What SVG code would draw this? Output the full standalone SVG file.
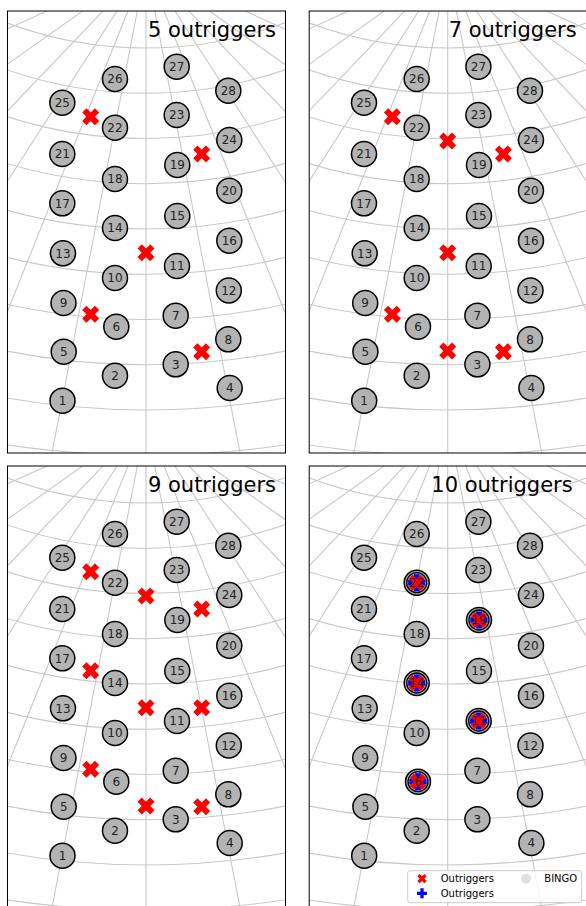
<svg xmlns="http://www.w3.org/2000/svg" width="586" height="906" viewBox="0 0 586 906">
<style>
.bg{fill:#fff;stroke:none}
.frame{fill:none;stroke:#000;stroke-width:1}
.grid path,.grid circle{fill:none;stroke:#c8c8c8;stroke-width:1.1}
.node circle{fill:#b3b3b3;stroke:#000;stroke-width:1.5}
.node circle.ring{fill:none;stroke:#000;stroke-width:1.3}
.node text{font-family:"DejaVu Sans",sans-serif;font-size:12px;fill:#222;text-anchor:middle}
.title{font-family:"DejaVu Sans",sans-serif;font-size:21px;fill:#000;text-anchor:end}
.ox{fill:#f00}
.op{fill:#00f}
.leg{font-family:"DejaVu Sans",sans-serif;font-size:10px;fill:#000}
.legbox{fill:#fff;fill-opacity:0.8;stroke:#cccccc;stroke-width:1}
</style>
<defs>
<clipPath id="clip"><rect x="7.5" y="11" width="278" height="442"/></clipPath>
<path id="xm" d="M-3,-9H3V-3H9V3H3V9H-3V3H-9V-3H-3Z" transform="rotate(45)"/>
<path id="pm" d="M-3,-9H3V-3H9V3H3V9H-3V3H-9V-3H-3Z"/>
<g id="grid" class="grid">
<path d="M146,-34V1000"/>
<path d="M146,-34L335.6,947.9M146,-34L-43.6,947.9"/>
<path d="M146,-34L518.3,894.1M146,-34L-226.3,894.1"/>
<path d="M146,-34L687.5,806.7M146,-34L-395.5,806.7"/>
<path d="M146,-34L837.2,688.7M146,-34L-545.2,688.7"/>
<path d="M146,-34L961.7,544.5M146,-34L-669.7,544.5"/>
<path d="M146,-34L1056.5,379.5M146,-34L-764.5,379.5"/>
<path d="M146,-34L1118.4,199.3M146,-34L-826.4,199.3"/>
<circle cx="146" cy="-348.1" r="396.1"/>
<circle cx="146" cy="-328.75" r="422"/>
<circle cx="146" cy="-313.3" r="451.8"/>
<circle cx="146" cy="-302.9" r="486.6"/>
<circle cx="146" cy="-298.7" r="527.7"/>
<circle cx="146" cy="-302.5" r="576.8"/>
<circle cx="146" cy="-317" r="636.5"/>
<circle cx="146" cy="-346" r="710.7"/>
<circle cx="146" cy="-395.3" r="805.3"/>
<circle cx="146" cy="-474.4" r="929.6"/>
</g>
</defs>

<!-- Panel 1 -->
<g id="panel5" transform="translate(0,0)">
<rect class="bg" x="7.5" y="11" width="278" height="442"/>
<g clip-path="url(#clip)"><use href="#grid"/></g>
<g id="p5-n1" class="node"><circle cx="62.5" cy="400.7" r="12.5"/><text x="62.5" y="405.1">1</text></g>
<g id="p5-n2" class="node"><circle cx="115" cy="375.7" r="12.5"/><text x="115" y="380.1">2</text></g>
<g id="p5-n3" class="node"><circle cx="175.7" cy="364.3" r="12.5"/><text x="175.7" y="368.7">3</text></g>
<g id="p5-n4" class="node"><circle cx="229.7" cy="388" r="12.5"/><text x="229.7" y="392.4">4</text></g>
<g id="p5-n5" class="node"><circle cx="63.7" cy="351.7" r="12.5"/><text x="63.7" y="356.1">5</text></g>
<g id="p5-n6" class="node"><circle cx="116.3" cy="326.7" r="12.5"/><text x="116.3" y="331.1">6</text></g>
<g id="p5-n7" class="node"><circle cx="175.7" cy="315.7" r="12.5"/><text x="175.7" y="320.1">7</text></g>
<g id="p5-n8" class="node"><circle cx="228.3" cy="339.3" r="12.5"/><text x="228.3" y="343.7">8</text></g>
<g id="p5-n9" class="node"><circle cx="63.5" cy="303" r="12.5"/><text x="63.5" y="307.4">9</text></g>
<g id="p5-n10" class="node"><circle cx="115" cy="278" r="12.5"/><text x="115" y="282.4">10</text></g>
<g id="p5-n11" class="node"><circle cx="177" cy="266" r="12.5"/><text x="177" y="270.4">11</text></g>
<g id="p5-n12" class="node"><circle cx="228.8" cy="290.5" r="12.5"/><text x="228.8" y="294.9">12</text></g>
<g id="p5-n13" class="node"><circle cx="63" cy="253.3" r="12.5"/><text x="63" y="257.7">13</text></g>
<g id="p5-n14" class="node"><circle cx="115" cy="228" r="12.5"/><text x="115" y="232.4">14</text></g>
<g id="p5-n15" class="node"><circle cx="177.3" cy="216" r="12.5"/><text x="177.3" y="220.4">15</text></g>
<g id="p5-n16" class="node"><circle cx="229.3" cy="240.7" r="12.5"/><text x="229.3" y="245.1">16</text></g>
<g id="p5-n17" class="node"><circle cx="62.3" cy="203.3" r="12.5"/><text x="62.3" y="207.7">17</text></g>
<g id="p5-n18" class="node"><circle cx="115" cy="179" r="12.5"/><text x="115" y="183.4">18</text></g>
<g id="p5-n19" class="node"><circle cx="177.3" cy="165" r="12.5"/><text x="177.3" y="169.4">19</text></g>
<g id="p5-n20" class="node"><circle cx="229.3" cy="190.7" r="12.5"/><text x="229.3" y="195.1">20</text></g>
<g id="p5-n21" class="node"><circle cx="62.3" cy="154" r="12.5"/><text x="62.3" y="158.4">21</text></g>
<g id="p5-n22" class="node"><circle cx="115" cy="127.7" r="12.5"/><text x="115" y="132.1">22</text></g>
<g id="p5-n23" class="node"><circle cx="176.7" cy="115" r="12.5"/><text x="176.7" y="119.4">23</text></g>
<g id="p5-n24" class="node"><circle cx="229.3" cy="140" r="12.5"/><text x="229.3" y="144.4">24</text></g>
<g id="p5-n25" class="node"><circle cx="62.3" cy="102.7" r="12.5"/><text x="62.3" y="107.1">25</text></g>
<g id="p5-n26" class="node"><circle cx="115" cy="79" r="12.5"/><text x="115" y="83.4">26</text></g>
<g id="p5-n27" class="node"><circle cx="176.7" cy="66.7" r="12.5"/><text x="176.7" y="71.1">27</text></g>
<g id="p5-n28" class="node"><circle cx="228.3" cy="90.7" r="12.5"/><text x="228.3" y="95.1">28</text></g>
<g id="p5-out" class="ox">
<use href="#xm" x="90.7" y="116.7"/><use href="#xm" x="201.7" y="154"/><use href="#xm" x="146" y="252.7"/><use href="#xm" x="90.7" y="314.3"/><use href="#xm" x="201.7" y="351.7"/>
</g>
<rect class="frame" x="7.5" y="11" width="278" height="442"/>
<text class="title" x="276" y="37.3">5 outriggers</text>
</g>

<!-- Panel 2 -->
<g id="panel7" transform="translate(301.7,0)">
<rect class="bg" x="7.5" y="11" width="278" height="442"/>
<g clip-path="url(#clip)"><use href="#grid"/></g>
<g id="p7-n1" class="node"><circle cx="62.5" cy="400.7" r="12.5"/><text x="62.5" y="405.1">1</text></g>
<g id="p7-n2" class="node"><circle cx="115" cy="375.7" r="12.5"/><text x="115" y="380.1">2</text></g>
<g id="p7-n3" class="node"><circle cx="175.7" cy="364.3" r="12.5"/><text x="175.7" y="368.7">3</text></g>
<g id="p7-n4" class="node"><circle cx="229.7" cy="388" r="12.5"/><text x="229.7" y="392.4">4</text></g>
<g id="p7-n5" class="node"><circle cx="63.7" cy="351.7" r="12.5"/><text x="63.7" y="356.1">5</text></g>
<g id="p7-n6" class="node"><circle cx="116.3" cy="326.7" r="12.5"/><text x="116.3" y="331.1">6</text></g>
<g id="p7-n7" class="node"><circle cx="175.7" cy="315.7" r="12.5"/><text x="175.7" y="320.1">7</text></g>
<g id="p7-n8" class="node"><circle cx="228.3" cy="339.3" r="12.5"/><text x="228.3" y="343.7">8</text></g>
<g id="p7-n9" class="node"><circle cx="63.5" cy="303" r="12.5"/><text x="63.5" y="307.4">9</text></g>
<g id="p7-n10" class="node"><circle cx="115" cy="278" r="12.5"/><text x="115" y="282.4">10</text></g>
<g id="p7-n11" class="node"><circle cx="177" cy="266" r="12.5"/><text x="177" y="270.4">11</text></g>
<g id="p7-n12" class="node"><circle cx="228.8" cy="290.5" r="12.5"/><text x="228.8" y="294.9">12</text></g>
<g id="p7-n13" class="node"><circle cx="63" cy="253.3" r="12.5"/><text x="63" y="257.7">13</text></g>
<g id="p7-n14" class="node"><circle cx="115" cy="228" r="12.5"/><text x="115" y="232.4">14</text></g>
<g id="p7-n15" class="node"><circle cx="177.3" cy="216" r="12.5"/><text x="177.3" y="220.4">15</text></g>
<g id="p7-n16" class="node"><circle cx="229.3" cy="240.7" r="12.5"/><text x="229.3" y="245.1">16</text></g>
<g id="p7-n17" class="node"><circle cx="62.3" cy="203.3" r="12.5"/><text x="62.3" y="207.7">17</text></g>
<g id="p7-n18" class="node"><circle cx="115" cy="179" r="12.5"/><text x="115" y="183.4">18</text></g>
<g id="p7-n19" class="node"><circle cx="177.3" cy="165" r="12.5"/><text x="177.3" y="169.4">19</text></g>
<g id="p7-n20" class="node"><circle cx="229.3" cy="190.7" r="12.5"/><text x="229.3" y="195.1">20</text></g>
<g id="p7-n21" class="node"><circle cx="62.3" cy="154" r="12.5"/><text x="62.3" y="158.4">21</text></g>
<g id="p7-n22" class="node"><circle cx="115" cy="127.7" r="12.5"/><text x="115" y="132.1">22</text></g>
<g id="p7-n23" class="node"><circle cx="176.7" cy="115" r="12.5"/><text x="176.7" y="119.4">23</text></g>
<g id="p7-n24" class="node"><circle cx="229.3" cy="140" r="12.5"/><text x="229.3" y="144.4">24</text></g>
<g id="p7-n25" class="node"><circle cx="62.3" cy="102.7" r="12.5"/><text x="62.3" y="107.1">25</text></g>
<g id="p7-n26" class="node"><circle cx="115" cy="79" r="12.5"/><text x="115" y="83.4">26</text></g>
<g id="p7-n27" class="node"><circle cx="176.7" cy="66.7" r="12.5"/><text x="176.7" y="71.1">27</text></g>
<g id="p7-n28" class="node"><circle cx="228.3" cy="90.7" r="12.5"/><text x="228.3" y="95.1">28</text></g>
<g id="p7-out" class="ox">
<use href="#xm" x="90.7" y="116.7"/><use href="#xm" x="146" y="141"/><use href="#xm" x="201.7" y="154"/><use href="#xm" x="146" y="252.7"/><use href="#xm" x="90.7" y="314.3"/><use href="#xm" x="146" y="351"/><use href="#xm" x="201.7" y="351.7"/>
</g>
<rect class="frame" x="7.5" y="11" width="278" height="442"/>
<text class="title" x="275" y="37.3">7 outriggers</text>
</g>

<!-- Panel 3 -->
<g id="panel9" transform="translate(0,455)">
<rect class="bg" x="7.5" y="11" width="278" height="442"/>
<g clip-path="url(#clip)"><use href="#grid"/></g>
<g id="p9-n1" class="node"><circle cx="62.5" cy="400.7" r="12.5"/><text x="62.5" y="405.1">1</text></g>
<g id="p9-n2" class="node"><circle cx="115" cy="375.7" r="12.5"/><text x="115" y="380.1">2</text></g>
<g id="p9-n3" class="node"><circle cx="175.7" cy="364.3" r="12.5"/><text x="175.7" y="368.7">3</text></g>
<g id="p9-n4" class="node"><circle cx="229.7" cy="388" r="12.5"/><text x="229.7" y="392.4">4</text></g>
<g id="p9-n5" class="node"><circle cx="63.7" cy="351.7" r="12.5"/><text x="63.7" y="356.1">5</text></g>
<g id="p9-n6" class="node"><circle cx="116.3" cy="326.7" r="12.5"/><text x="116.3" y="331.1">6</text></g>
<g id="p9-n7" class="node"><circle cx="175.7" cy="315.7" r="12.5"/><text x="175.7" y="320.1">7</text></g>
<g id="p9-n8" class="node"><circle cx="228.3" cy="339.3" r="12.5"/><text x="228.3" y="343.7">8</text></g>
<g id="p9-n9" class="node"><circle cx="63.5" cy="303" r="12.5"/><text x="63.5" y="307.4">9</text></g>
<g id="p9-n10" class="node"><circle cx="115" cy="278" r="12.5"/><text x="115" y="282.4">10</text></g>
<g id="p9-n11" class="node"><circle cx="177" cy="266" r="12.5"/><text x="177" y="270.4">11</text></g>
<g id="p9-n12" class="node"><circle cx="228.8" cy="290.5" r="12.5"/><text x="228.8" y="294.9">12</text></g>
<g id="p9-n13" class="node"><circle cx="63" cy="253.3" r="12.5"/><text x="63" y="257.7">13</text></g>
<g id="p9-n14" class="node"><circle cx="115" cy="228" r="12.5"/><text x="115" y="232.4">14</text></g>
<g id="p9-n15" class="node"><circle cx="177.3" cy="216" r="12.5"/><text x="177.3" y="220.4">15</text></g>
<g id="p9-n16" class="node"><circle cx="229.3" cy="240.7" r="12.5"/><text x="229.3" y="245.1">16</text></g>
<g id="p9-n17" class="node"><circle cx="62.3" cy="203.3" r="12.5"/><text x="62.3" y="207.7">17</text></g>
<g id="p9-n18" class="node"><circle cx="115" cy="179" r="12.5"/><text x="115" y="183.4">18</text></g>
<g id="p9-n19" class="node"><circle cx="177.3" cy="165" r="12.5"/><text x="177.3" y="169.4">19</text></g>
<g id="p9-n20" class="node"><circle cx="229.3" cy="190.7" r="12.5"/><text x="229.3" y="195.1">20</text></g>
<g id="p9-n21" class="node"><circle cx="62.3" cy="154" r="12.5"/><text x="62.3" y="158.4">21</text></g>
<g id="p9-n22" class="node"><circle cx="115" cy="127.7" r="12.5"/><text x="115" y="132.1">22</text></g>
<g id="p9-n23" class="node"><circle cx="176.7" cy="115" r="12.5"/><text x="176.7" y="119.4">23</text></g>
<g id="p9-n24" class="node"><circle cx="229.3" cy="140" r="12.5"/><text x="229.3" y="144.4">24</text></g>
<g id="p9-n25" class="node"><circle cx="62.3" cy="102.7" r="12.5"/><text x="62.3" y="107.1">25</text></g>
<g id="p9-n26" class="node"><circle cx="115" cy="79" r="12.5"/><text x="115" y="83.4">26</text></g>
<g id="p9-n27" class="node"><circle cx="176.7" cy="66.7" r="12.5"/><text x="176.7" y="71.1">27</text></g>
<g id="p9-n28" class="node"><circle cx="228.3" cy="90.7" r="12.5"/><text x="228.3" y="95.1">28</text></g>
<g id="p9-out" class="ox">
<use href="#xm" x="90.7" y="116.7"/><use href="#xm" x="146" y="141"/><use href="#xm" x="201.7" y="154"/><use href="#xm" x="90.7" y="215.7"/><use href="#xm" x="146" y="252.7"/><use href="#xm" x="201.7" y="252.7"/><use href="#xm" x="90.7" y="314.3"/><use href="#xm" x="146" y="351"/><use href="#xm" x="201.7" y="351.7"/>
</g>
<rect class="frame" x="7.5" y="11" width="278" height="442"/>
<text class="title" x="276" y="37.3">9 outriggers</text>
</g>

<!-- Panel 4 -->
<g id="panel10" transform="translate(301.7,455)">
<rect class="bg" x="7.5" y="11" width="278" height="442"/>
<g clip-path="url(#clip)"><use href="#grid"/></g>
<g id="p10-n1" class="node"><circle cx="62.5" cy="400.7" r="12.5"/><text x="62.5" y="405.1">1</text></g>
<g id="p10-n2" class="node"><circle cx="115" cy="375.7" r="12.5"/><text x="115" y="380.1">2</text></g>
<g id="p10-n3" class="node"><circle cx="175.7" cy="364.3" r="12.5"/><text x="175.7" y="368.7">3</text></g>
<g id="p10-n4" class="node"><circle cx="229.7" cy="388" r="12.5"/><text x="229.7" y="392.4">4</text></g>
<g id="p10-n5" class="node"><circle cx="63.7" cy="351.7" r="12.5"/><text x="63.7" y="356.1">5</text></g>
<g id="p10-n6" class="node"><circle cx="116.3" cy="326.7" r="12.5"/><circle class="ring" cx="116.3" cy="326.7" r="10"/><use class="op" href="#pm" transform="translate(116.3,326.7) scale(0.95)"/><use class="ox" href="#xm" transform="translate(116.3,326.7) scale(0.95)"/><text x="116.3" y="331.1">6</text></g>
<g id="p10-n7" class="node"><circle cx="175.7" cy="315.7" r="12.5"/><text x="175.7" y="320.1">7</text></g>
<g id="p10-n8" class="node"><circle cx="228.3" cy="339.3" r="12.5"/><text x="228.3" y="343.7">8</text></g>
<g id="p10-n9" class="node"><circle cx="63.5" cy="303" r="12.5"/><text x="63.5" y="307.4">9</text></g>
<g id="p10-n10" class="node"><circle cx="115" cy="278" r="12.5"/><text x="115" y="282.4">10</text></g>
<g id="p10-n11" class="node"><circle cx="177" cy="266" r="12.5"/><circle class="ring" cx="177" cy="266" r="10"/><use class="op" href="#pm" transform="translate(177,266) scale(0.95)"/><use class="ox" href="#xm" transform="translate(177,266) scale(0.95)"/><text x="177" y="270.4">11</text></g>
<g id="p10-n12" class="node"><circle cx="228.8" cy="290.5" r="12.5"/><text x="228.8" y="294.9">12</text></g>
<g id="p10-n13" class="node"><circle cx="63" cy="253.3" r="12.5"/><text x="63" y="257.7">13</text></g>
<g id="p10-n14" class="node"><circle cx="115" cy="228" r="12.5"/><circle class="ring" cx="115" cy="228" r="10"/><use class="op" href="#pm" transform="translate(115,228) scale(0.95)"/><use class="ox" href="#xm" transform="translate(115,228) scale(0.95)"/><text x="115" y="232.4">14</text></g>
<g id="p10-n15" class="node"><circle cx="177.3" cy="216" r="12.5"/><text x="177.3" y="220.4">15</text></g>
<g id="p10-n16" class="node"><circle cx="229.3" cy="240.7" r="12.5"/><text x="229.3" y="245.1">16</text></g>
<g id="p10-n17" class="node"><circle cx="62.3" cy="203.3" r="12.5"/><text x="62.3" y="207.7">17</text></g>
<g id="p10-n18" class="node"><circle cx="115" cy="179" r="12.5"/><text x="115" y="183.4">18</text></g>
<g id="p10-n19" class="node"><circle cx="177.3" cy="165" r="12.5"/><circle class="ring" cx="177.3" cy="165" r="10"/><use class="op" href="#pm" transform="translate(177.3,165) scale(0.95)"/><use class="ox" href="#xm" transform="translate(177.3,165) scale(0.95)"/><text x="177.3" y="169.4">19</text></g>
<g id="p10-n20" class="node"><circle cx="229.3" cy="190.7" r="12.5"/><text x="229.3" y="195.1">20</text></g>
<g id="p10-n21" class="node"><circle cx="62.3" cy="154" r="12.5"/><text x="62.3" y="158.4">21</text></g>
<g id="p10-n22" class="node"><circle cx="115" cy="127.7" r="12.5"/><circle class="ring" cx="115" cy="127.7" r="10"/><use class="op" href="#pm" transform="translate(115,127.7) scale(0.95)"/><use class="ox" href="#xm" transform="translate(115,127.7) scale(0.95)"/><text x="115" y="132.1">22</text></g>
<g id="p10-n23" class="node"><circle cx="176.7" cy="115" r="12.5"/><text x="176.7" y="119.4">23</text></g>
<g id="p10-n24" class="node"><circle cx="229.3" cy="140" r="12.5"/><text x="229.3" y="144.4">24</text></g>
<g id="p10-n25" class="node"><circle cx="62.3" cy="102.7" r="12.5"/><text x="62.3" y="107.1">25</text></g>
<g id="p10-n26" class="node"><circle cx="115" cy="79" r="12.5"/><text x="115" y="83.4">26</text></g>
<g id="p10-n27" class="node"><circle cx="176.7" cy="66.7" r="12.5"/><text x="176.7" y="71.1">27</text></g>
<g id="p10-n28" class="node"><circle cx="228.3" cy="90.7" r="12.5"/><text x="228.3" y="95.1">28</text></g>
<rect class="frame" x="7.5" y="11" width="278" height="442"/>
<text class="title" x="271" y="37.3">10 outriggers</text>
</g>

<!-- Legend -->
<g id="legend">
<rect class="legbox" x="407.7" y="870.7" width="174" height="32" rx="2.5"/>
<use class="ox" href="#xm" transform="translate(422,878.7) scale(0.55)"/>
<text class="leg" x="440.7" y="882.3">Outriggers</text>
<use class="op" href="#pm" transform="translate(422,893.3) scale(0.55)"/>
<text class="leg" x="440.7" y="896.9">Outriggers</text>
<circle cx="526" cy="878.7" r="5" fill="#e0e0e0"/>
<text class="leg" x="544.3" y="882.3">BINGO</text>
</g>
</svg>
